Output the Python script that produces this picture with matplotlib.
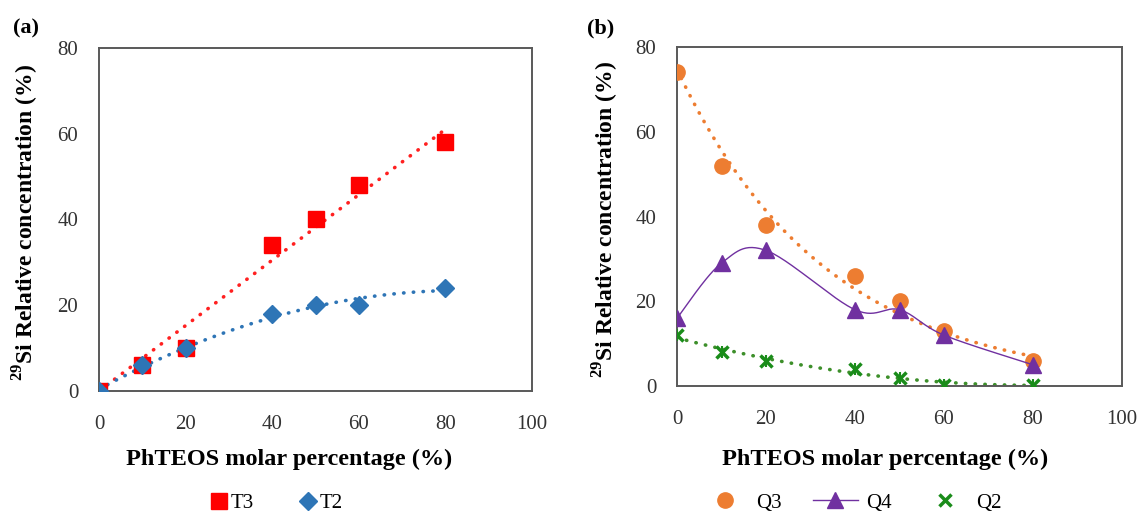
import numpy as np
import matplotlib
matplotlib.use('Agg')
import matplotlib.pyplot as plt

plt.rcParams['font.family'] = ['Liberation Serif', 'DejaVu Serif']
plt.rcParams['mathtext.fontset'] = 'custom'
plt.rcParams['mathtext.rm'] = 'Liberation Serif'
plt.rcParams['mathtext.bf'] = 'Liberation Serif:bold'

# data
x = [0, 10, 20, 40, 50, 60, 80]
t3 = [0, 6, 10, 34, 40, 48, 58]
t2 = [0, 6, 10, 18, 20, 20, 24]
q3 = [74, 52, 38, 26, 20, 13, 6]
q4 = [16, 29, 32, 18, 18, 12, 5]
q2 = [12, 8, 6, 4, 2, 0.3, 0.2]

xa = np.array(x, dtype=float)
xs = np.linspace(0, 80, 200)
dot = (0, (0.1, 2.6))


# excel-like smoothed line (catmull-rom)
def smooth(px, py, n=30):
    P = np.column_stack([np.asarray(px, float), np.asarray(py, float)])
    P = np.vstack([P[0], P, P[-1]])
    out = []
    for i in range(1, len(P) - 2):
        p0, p1, p2, p3 = P[i - 1], P[i], P[i + 1], P[i + 2]
        t = np.linspace(0, 1, n)[:, None]
        c = 0.5 * ((2 * p1) + (-p0 + p2) * t + (2 * p0 - 5 * p1 + 4 * p2 - p3) * t ** 2
                   + (-p0 + 3 * p1 - 3 * p2 + p3) * t ** 3)
        out.append(c)
    out = np.vstack(out)
    return out[:, 0], out[:, 1]


W, H = 1141, 516
fig = plt.figure(figsize=(W / 100, H / 100), dpi=100)
ax1 = fig.add_axes([99 / W, 1 - 391 / H, 433 / W, 343 / H])
ax2 = fig.add_axes([677 / W, 1 - 386 / H, 445 / W, 339 / H])

# (a) trendlines
k = np.sum(xa * np.array(t3)) / np.sum(xa ** 2)
ax1.plot(xs, k * xs, ls=dot, color='#ff2020', lw=2.6, dash_capstyle='round', zorder=2)
c2 = np.polyfit(xa, t2, 2)
ax1.plot(xs, np.polyval(c2, xs), ls=dot, color='#2e75b6', lw=2.6, dash_capstyle='round', zorder=2)
ax1.plot(x, t3, 's', color='#ff0000', ms=11, ls='none', label='T3', zorder=3)
ax1.plot(x, t2, 'D', color='#2e75b6', ms=9, ls='none', label='T2', zorder=4)

# (b) trendlines
ce = np.polyfit(xa, np.log(q3), 1)
ax2.plot(xs, np.exp(np.polyval(ce, xs)), ls=dot, color='#ed7d31', lw=2.6, dash_capstyle='round', zorder=2)
cq2 = np.polyfit(xa, q2, 2)
ax2.plot(xs, np.polyval(cq2, xs), ls=dot, color='#3d8f2a', lw=2.6, dash_capstyle='round', zorder=2)
ax2.plot(x, q3, 'o', color='#ed7d31', ms=11, ls='none', label='Q3', zorder=3)
sx, sy = smooth(x, q4)
ax2.plot(sx, sy, '-', color='#7030a0', lw=1.0, zorder=3)
ax2.plot(x, q4, '^', color='#7030a0', ms=11, ls='none', zorder=4)
ax2.plot([], [], '-^', color='#7030a0', lw=1.0, ms=11, label='Q4')
ax2.plot(x, q2, 'x', color='#1a8c1a', ms=9, mew=2.5, ls='none', label='Q2', zorder=4)
ax2.plot(x, q2, '|', color='#1a8c1a', ms=9, mew=1.5, ls='none', zorder=4)

for ax in (ax1, ax2):
    ax.set_xlim(0, 100)
    ax.set_ylim(0, 80)
    ax.set_xticks(range(0, 101, 20))
    ax.set_yticks(range(0, 81, 20))
    ax.tick_params(length=0, labelsize=15, colors='#333333')
    ax.tick_params(axis='x', pad=17)
    ax.tick_params(axis='y', pad=15)
    for s in ax.spines.values():
        s.set_color('#595959')
        s.set_linewidth(1.4)
    ax.set_xlabel('PhTEOS molar percentage (%)', fontsize=17.5, fontweight='bold', va='center')
    ax.set_ylabel(r'$^{\mathbf{29}}$Si Relative concentration (%)', fontsize=17,
                  fontweight='bold', va='center')

ax1.xaxis.set_label_coords(0.44, -0.20)
ax2.xaxis.set_label_coords(0.467, -0.218)
ax1.yaxis.set_label_coords(-0.168, 0.49)
ax2.yaxis.set_label_coords(-0.16, 0.49)

ax1.legend(loc='center', bbox_to_anchor=(0.41, -0.327), ncol=2, frameon=False,
           fontsize=15, handlelength=0.8, handletextpad=0.15, columnspacing=2.2)
ax2.legend(loc='center', bbox_to_anchor=(0.393, -0.345), ncol=3, frameon=False,
           fontsize=15, handlelength=2.2, handletextpad=0.35, columnspacing=1.5)

fig.text(13 / W, 1 - 28 / H, '(a)', fontsize=16, fontweight='bold', va='center')
fig.text(587 / W, 1 - 28 / H, '(b)', fontsize=16, fontweight='bold', va='center')

fig.savefig('out.png', dpi=100)
